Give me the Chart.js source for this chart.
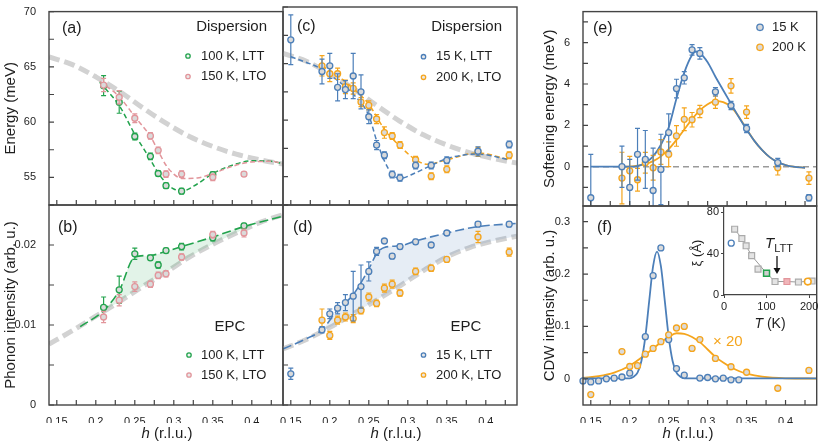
<!DOCTYPE html>
<html>
<head>
<meta charset="utf-8">
<script src="https://cdn.jsdelivr.net/npm/chart.js@4.4.1/dist/chart.umd.min.js"></script>
<style>
  html, body { margin: 0; background: #fff; }
  #wrap { position: relative; width: 822px; height: 445px; }
  #wrap canvas { position: absolute; left: 0; top: 0; }
</style>
</head>
<body>
<div id="wrap">
  <canvas id="ca" width="822" height="445"></canvas>
  <canvas id="cb" width="822" height="445"></canvas>
  <canvas id="cc" width="822" height="445"></canvas>
  <canvas id="cd" width="822" height="445"></canvas>
  <canvas id="ce" width="822" height="445"></canvas>
  <canvas id="cf" width="822" height="445"></canvas>
  <canvas id="ci" width="822" height="445"></canvas>
</div>
<script>
const W = 822, H = 445;
const FONT = '"Liberation Sans", Arial, Helvetica, sans-serif';
Chart.defaults.font.family = FONT;

const GREEN = '#22a34d', PINK = '#e2959b', BLUE = '#4c7fb9', ORANGE = '#f5a51d';
const DOTFILL = '#dadada', AXIS = '#444', TXT = '#1e1e1e', GRAYLINE = '#d2d2d2';

// shared h axis (r.l.u.)
const hTicks = [0.15, 0.175, 0.2, 0.225, 0.25, 0.275, 0.3, 0.325, 0.35, 0.375, 0.4, 0.425];
const hLabels = [0.15, 0.2, 0.25, 0.3, 0.35, 0.4];

// (a) dispersion, 100 K LTT / 150 K LTO
const aH100 = [0.21, 0.23, 0.25, 0.27, 0.28, 0.29, 0.31, 0.35];
const aE100 = [63.3, 61.8, 58.7, 56.9, 55.35, 54.25, 53.75, 55.25];
const aErr100 = [0.9, 1.0, 0.3, 0.3, 0.25, 0.25, 0.25, 0.25];
const aH150 = [0.21, 0.23, 0.25, 0.27, 0.28, 0.29, 0.31, 0.35, 0.39];
const aE150 = [63.35, 62.25, 60.35, 58.75, 57.45, 55.3, 55.3, 55.0, 55.3];
const aErr150 = [0.6, 0.6, 0.4, 0.3, 0.3, 0.3, 0.3, 0.3, 0.2];
const aFitH = [0.205, 0.23, 0.25, 0.27, 0.28, 0.29, 0.30, 0.31, 0.33, 0.35, 0.375, 0.40, 0.425, 0.44];
const aFit100 = [63.6, 61.5, 58.9, 56.6, 55.4, 54.5, 53.95, 53.75, 54.4, 55.35, 56.1, 56.5, 56.45, 56.25];
const aFit150 = [63.7, 62.3, 60.5, 58.7, 57.4, 56.1, 55.3, 54.9, 54.95, 55.35, 56.0, 56.4, 56.45, 56.25];
// bare dispersion (gray), used in (a) and (c)
const dispH = [0.14, 0.17, 0.20, 0.23, 0.26, 0.29, 0.32, 0.35, 0.38, 0.41, 0.44];
const dispE = [65.9, 65.2, 64.1, 62.8, 61.3, 59.9, 58.7, 57.8, 57.1, 56.6, 56.2];
const eTicks = [52.5, 55, 57.5, 60, 62.5, 65, 67.5, 70];
const eLabels = [55, 60, 65, 70];

// (b) phonon intensity
const bH = [0.21, 0.23, 0.25, 0.27, 0.28, 0.29, 0.31, 0.35, 0.39];
const bI100 = [0.0122, 0.0144, 0.0189, 0.0184, 0.0175, 0.0193, 0.0198, 0.0209, 0.0224];
const bErr100 = [0.0013, 0.0017, 0.0007, 0.0003, 0.0004, 0.0003, 0.0004, 0.0004, 0.0003];
const bI150 = [0.0110, 0.0131, 0.0148, 0.0151, 0.0162, 0.0164, 0.0185, 0.0213, 0.0215];
const bErr150 = [0.0007, 0.0007, 0.0006, 0.0004, 0.0004, 0.0004, 0.0004, 0.0004, 0.0005];
const bFitH = [0.18, 0.21, 0.23, 0.25, 0.27, 0.29, 0.31, 0.35, 0.39, 0.44];
const bFit = [0.0098, 0.0118, 0.0143, 0.0185, 0.0187, 0.0192, 0.0198, 0.0210, 0.0223, 0.0236];
const bGrayH = [0.14, 0.17, 0.2, 0.23, 0.26, 0.29, 0.32, 0.35, 0.38, 0.41, 0.44];
const bGray = [0.0076, 0.0093, 0.0111, 0.0129, 0.0148, 0.0166, 0.0185, 0.0201, 0.0215, 0.0228, 0.0238];
const iTicks = [0, 0.005, 0.01, 0.015, 0.02, 0.025];
const iLabels = [0, 0.01, 0.02];

// (c) dispersion, 15 K LTT / 200 K LTO
const cH15 = [0.15, 0.19, 0.2, 0.21, 0.22, 0.23, 0.24, 0.25, 0.26, 0.27, 0.28, 0.29, 0.31, 0.33, 0.35, 0.39, 0.43];
const cE15 = [67.1, 64.3, 64.8, 62.9, 62.7, 63.9, 62.5, 60.3, 57.8, 56.9, 55.2, 54.9, 56.0, 56.0, 56.45, 57.25, 57.85];
const cErr15 = [2.2, 1.1, 1.1, 1.2, 0.8, 2.0, 1.5, 0.6, 0.4, 0.3, 0.3, 0.3, 0.3, 0.3, 0.3, 0.4, 0.3];
const cH200 = [0.19, 0.2, 0.21, 0.22, 0.23, 0.24, 0.25, 0.26, 0.27, 0.28, 0.29, 0.31, 0.33, 0.35, 0.39, 0.43];
const cE200 = [64.8, 64.1, 64.1, 62.95, 62.8, 61.6, 61.3, 60.1, 58.9, 58.6, 57.8, 56.5, 55.05, 55.65, 57.2, 56.9];
const cErr200 = [0.9, 0.7, 0.5, 0.6, 0.5, 0.4, 0.4, 0.4, 0.5, 0.3, 0.3, 0.3, 0.3, 0.3, 0.4, 0.3];
const cFitH15 = [0.15, 0.19, 0.21, 0.23, 0.25, 0.26, 0.27, 0.28, 0.29, 0.31, 0.33, 0.35, 0.39, 0.43];
const cFit15 = [65.6, 64.5, 63.5, 62.3, 60.4, 58.2, 56.4, 55.2, 54.85, 55.35, 56.0, 56.6, 57.0, 56.5];
const cFitH200 = [0.19, 0.21, 0.23, 0.25, 0.27, 0.29, 0.31, 0.325, 0.35, 0.39, 0.43];
const cFit200 = [64.8, 63.9, 62.8, 61.4, 59.2, 57.7, 56.5, 56.1, 56.5, 57.1, 56.5];

// (d) phonon intensity
const dH15 = [0.15, 0.19, 0.2, 0.21, 0.22, 0.23, 0.24, 0.25, 0.26, 0.27, 0.28, 0.29, 0.31, 0.33, 0.35, 0.39, 0.43];
const dI15 = [0.0039, 0.0094, 0.0114, 0.0121, 0.0128, 0.0136, 0.0148, 0.0167, 0.0192, 0.0205, 0.0186, 0.0198, 0.0204, 0.0200, 0.0215, 0.0226, 0.0226];
const dErr15 = [0.0007, 0.0004, 0.0006, 0.0007, 0.0010, 0.0031, 0.0027, 0.0012, 0.0005, 0.0003, 0.0003, 0.0003, 0.0003, 0.0003, 0.0003, 0.0003, 0.0003];
const dH200 = [0.19, 0.2, 0.21, 0.22, 0.23, 0.24, 0.25, 0.26, 0.27, 0.28, 0.29, 0.31, 0.33, 0.35, 0.39, 0.43];
const dI200 = [0.0106, 0.0087, 0.0106, 0.0110, 0.0108, 0.0118, 0.0135, 0.0127, 0.0146, 0.0151, 0.0140, 0.0167, 0.0171, 0.0182, 0.0210, 0.0191];
const dErr200 = [0.0014, 0.0005, 0.0005, 0.0005, 0.0005, 0.0004, 0.0005, 0.0004, 0.0005, 0.0005, 0.0004, 0.0004, 0.0004, 0.0003, 0.0007, 0.0005];
const dFitH = [0.14, 0.17, 0.19, 0.21, 0.23, 0.25, 0.26, 0.27, 0.29, 0.31, 0.35, 0.39, 0.44];
const dFit = [0.0070, 0.0083, 0.0094, 0.0119, 0.0138, 0.0170, 0.0189, 0.0197, 0.0199, 0.0205, 0.0215, 0.0223, 0.0227];
const dGrayH = [0.14, 0.17, 0.2, 0.23, 0.26, 0.29, 0.32, 0.35, 0.38, 0.41, 0.44];
const dGray = [0.0070, 0.0082, 0.0097, 0.0114, 0.0131, 0.0149, 0.0168, 0.0185, 0.0197, 0.0205, 0.0211];

// (e) softening energy
const eH15 = [0.15, 0.19, 0.2, 0.21, 0.22, 0.23, 0.24, 0.25, 0.26, 0.27, 0.28, 0.29, 0.31, 0.33, 0.35, 0.39, 0.43];
const eS15 = [-1.5, 0, -1.0, 0.6, 0.35, -1.15, -0.13, 1.65, 3.78, 4.3, 5.65, 5.48, 3.62, 2.96, 1.85, 0.2, -1.5];
const eErr15 = [2.1, 1.0, 1.35, 1.25, 1.4, 2.05, 1.7, 0.9, 0.45, 0.3, 0.25, 0.28, 0.2, 0.2, 0.2, 0.2, 0.15];
const eH200 = [0.19, 0.2, 0.21, 0.22, 0.23, 0.24, 0.25, 0.26, 0.27, 0.28, 0.29, 0.31, 0.33, 0.35, 0.39, 0.43];
const eS200 = [-0.55, -0.2, -0.63, 0.19, -0.05, 0.71, 0.6, 1.49, 2.29, 2.27, 2.67, 3.12, 3.91, 2.64, -0.05, -0.55];
const eErr200 = [1.25, 0.7, 0.55, 0.5, 0.6, 0.6, 0.6, 0.5, 0.55, 0.35, 0.3, 0.3, 0.35, 0.3, 0.35, 0.3];
const eFitH15 = [0.15, 0.2, 0.21, 0.22, 0.23, 0.24, 0.25, 0.26, 0.27, 0.28, 0.285, 0.29, 0.30, 0.31, 0.32, 0.33, 0.34, 0.35, 0.36, 0.37, 0.38, 0.39, 0.40, 0.41, 0.425];
const eFit15 = [0, 0, 0.03, 0.19, 0.5, 1.06, 1.9, 3.3, 4.55, 5.4, 5.57, 5.5, 5.05, 4.35, 3.7, 3.05, 2.4, 1.8, 1.25, 0.8, 0.45, 0.22, 0.08, 0, -0.05];
const eFitH200 = [0.19, 0.2, 0.21, 0.22, 0.23, 0.24, 0.25, 0.26, 0.27, 0.28, 0.29, 0.30, 0.31, 0.32, 0.33, 0.34, 0.35, 0.36, 0.37, 0.38, 0.39, 0.40, 0.41, 0.425];
const eFit200 = [0, 0, 0.05, 0.13, 0.27, 0.5, 0.85, 1.3, 1.8, 2.3, 2.72, 3.02, 3.17, 3.12, 2.9, 2.42, 1.82, 1.25, 0.8, 0.45, 0.22, 0.08, 0, -0.05];
const zeroH = [0.14, 0.44];
const zeroS = [0, 0];
const sTicks = [-1, 0, 1, 2, 3, 4, 5, 6, 7];
const sLabels = [0, 2, 4, 6];

// (f) CDW intensity
const fH15 = [0.14, 0.15, 0.16, 0.17, 0.18, 0.19, 0.2, 0.22, 0.23, 0.24, 0.25, 0.26, 0.27, 0.29, 0.30, 0.31, 0.32, 0.33, 0.34];
const fI15 = [-0.004, -0.006, -0.004, 0, 0.0013, 0.0035, 0.0108, 0.0805, 0.197, 0.25, 0.075, 0.0195, 0.007, 0.0015, 0.0025, 0, 0.0013, -0.002, -0.002];
const fH200 = [0.15, 0.19, 0.2, 0.21, 0.22, 0.23, 0.24, 0.25, 0.26, 0.27, 0.28, 0.29, 0.31, 0.33, 0.35, 0.39, 0.43];
const fI200 = [-0.030, 0.052, 0.0235, 0.025, 0.047, 0.058, 0.071, 0.084, 0.097, 0.100, 0.058, 0.075, 0.039, 0.023, 0.0125, -0.018, 0.016];
const fFitH15 = [0.14, 0.2, 0.205, 0.21, 0.215, 0.22, 0.225, 0.23, 0.235, 0.24, 0.245, 0.25, 0.255, 0.26, 0.265, 0.27, 0.28, 0.44];
const fFit15 = [0.001, 0.001, 0.004, 0.012, 0.034, 0.08, 0.149, 0.215, 0.243, 0.215, 0.149, 0.08, 0.034, 0.012, 0.004, 0.001, 0.001, 0.001];
const fFitH200 = [0.14, 0.16, 0.18, 0.2, 0.22, 0.24, 0.25, 0.26, 0.27, 0.28, 0.29, 0.30, 0.31, 0.32, 0.33, 0.34, 0.35, 0.37, 0.40, 0.44];
const fFit200 = [0.0015, 0.005, 0.012, 0.025, 0.046, 0.070, 0.080, 0.087, 0.086, 0.080, 0.070, 0.056, 0.042, 0.031, 0.022, 0.015, 0.010, 0.004, 0.001, 0.0005];
const cdwTicks = [0, 0.05, 0.1, 0.15, 0.2, 0.25, 0.3];
const cdwLabels = [0, 0.1, 0.2, 0.3];

// inset: correlation length vs T
const insGrayT = [25, 42, 52, 65, 80, 120, 175, 207];
const insGrayXi = [63.5, 54.5, 47.5, 38, 25, 13, 12.5, 13.5];
const insLineT = [25, 42, 52, 65, 100, 120, 148, 175, 207];
const insLineXi = [63.5, 54.5, 47.5, 38, 21, 13, 13, 12.5, 13.5];
const insGreenT = [100], insGreenXi = [21];
const insPinkT = [148], insPinkXi = [13];
const insBlueT = [17], insBlueXi = [50];
const insOrangeT = [197], insOrangeXi = [13];
const insTTicks = [0, 100, 200];
const insXiTicks = [0, 40, 80];

const xy = (xs, ys) => xs.map((x, i) => ({ x: x, y: ys[i] }));

function dots(xs, ys, errs, color) {
  return { data: xy(xs, ys), errs: errs, showLine: false, pointRadius: 3, pointBorderWidth: 1.3,
           pointBorderColor: color, pointBackgroundColor: DOTFILL, clip: false };
}
function curve(xs, ys, color, dash, width, fill) {
  return { data: xy(xs, ys), showLine: true, pointRadius: 0, borderColor: color,
           borderWidth: width || 1.5, borderDash: dash || [], cubicInterpolationMode: 'monotone',
           fill: fill || false, clip: 0 };
}

// error bars drawn right before each dataset's markers
const errBars = {
  id: 'errBars',
  beforeDatasetDraw(chart, args) {
    const ds = chart.data.datasets[args.index];
    if (!ds.errs) return;
    const { ctx, chartArea: a } = chart;
    const ys = chart.scales.y;
    ctx.save();
    ctx.beginPath();
    ctx.rect(a.left, a.top, a.right - a.left, a.bottom - a.top);
    ctx.clip();
    ctx.strokeStyle = ds.pointBorderColor;
    ctx.lineWidth = 1.2;
    ctx.beginPath();
    args.meta.data.forEach((pt, i) => {
      const v = ds.data[i].y, e = ds.errs[i];
      const y1 = ys.getPixelForValue(v + e), y2 = ys.getPixelForValue(v - e);
      ctx.moveTo(pt.x, y1); ctx.lineTo(pt.x, y2);
      ctx.moveTo(pt.x - 2.5, y1); ctx.lineTo(pt.x + 2.5, y1);
      ctx.moveTo(pt.x - 2.5, y2); ctx.lineTo(pt.x + 2.5, y2);
    });
    ctx.stroke();
    ctx.restore();
  }
};

// box around the panel with inward ticks
function frame(xt, yt) {
  return {
    id: 'frame',
    afterDatasetsDraw(chart) {
      const { ctx, chartArea: a, scales } = chart;
      ctx.save();
      ctx.strokeStyle = AXIS;
      ctx.lineWidth = 1.2;
      ctx.beginPath();
      xt.forEach(v => { const p = scales.x.getPixelForValue(v); ctx.moveTo(p, a.bottom); ctx.lineTo(p, a.bottom - 5); });
      yt.forEach(v => { const p = scales.y.getPixelForValue(v); ctx.moveTo(a.left, p); ctx.lineTo(a.left + 5, p); });
      ctx.stroke();
      ctx.lineWidth = 1.4;
      ctx.strokeRect(a.left, a.top, a.right - a.left, a.bottom - a.top);
      ctx.restore();
    }
  };
}

// panel letters, legends and labels
function annot(items) {
  return {
    id: 'annot',
    afterDraw(chart) {
      const ctx = chart.ctx;
      items.forEach(it => {
        ctx.save();
        if (it.mark) {
          ctx.beginPath();
          ctx.arc(it.x, it.y, it.r || 2.2, 0, Math.PI * 2);
          ctx.fillStyle = it.fill || '#e8e8e8';
          ctx.fill();
          ctx.lineWidth = 1.3;
          ctx.strokeStyle = it.c;
          ctx.stroke();
        } else if (it.arrow) {
          ctx.strokeStyle = '#111';
          ctx.fillStyle = '#111';
          ctx.lineWidth = 1.3;
          ctx.beginPath();
          ctx.moveTo(it.x, it.y1); ctx.lineTo(it.x, it.y2 - 5);
          ctx.stroke();
          ctx.beginPath();
          ctx.moveTo(it.x - 3.5, it.y2 - 6); ctx.lineTo(it.x + 3.5, it.y2 - 6); ctx.lineTo(it.x, it.y2);
          ctx.closePath();
          ctx.fill();
        } else {
          const parts = it.parts || [{ t: it.t }];
          const fonts = parts.map(p => (p.it ? 'italic ' : '') + (p.size || it.size) + 'px ' + FONT);
          let w = 0;
          const ws = parts.map((p, i) => { ctx.font = fonts[i]; const m = ctx.measureText(p.t).width; w += m; return m; });
          ctx.translate(it.x, it.y);
          if (it.rot) ctx.rotate(it.rot);
          let x = it.align === 'right' ? -w : it.align === 'center' ? -w / 2 : 0;
          ctx.textBaseline = 'middle';
          ctx.fillStyle = it.c || TXT;
          parts.forEach((p, i) => { ctx.font = fonts[i]; ctx.fillText(p.t, x, p.dy || 0); x += ws[i]; });
        }
        ctx.restore();
      });
    }
  };
}

const hLabel = (x) => ({ parts: [{ t: 'h', it: true }, { t: ' (r.l.u.)' }], x: x, y: 434, size: 15, align: 'center' });

function makePanel(id, area, cfg) {
  const [L, T, R, B] = area;
  const yw = cfg.yTitle ? cfg.yw : 0;
  const xh = cfg.xShow ? 18 : 0;
  return new Chart(document.getElementById(id), {
    type: 'scatter',
    data: { datasets: cfg.datasets },
    options: {
      responsive: false,
      animation: false,
      events: [],
      layout: { padding: { left: L - yw, top: T, right: W - R, bottom: H - B - xh } },
      plugins: { legend: { display: false }, tooltip: { enabled: false } },
      scales: {
        x: {
          type: 'linear', min: 0.14, max: 0.44, display: !!cfg.xShow,
          afterBuildTicks: s => { s.ticks = hTicks.map(v => ({ value: v })); },
          afterFit: s => { s.height = xh; },
          grid: { display: false }, border: { display: false },
          ticks: { autoSkip: false, maxRotation: 0, padding: 2, color: TXT, font: { size: 11 },
                   callback: v => hLabels.includes(v) ? String(v) : '' }
        },
        y: {
          type: 'linear', min: cfg.yMin, max: cfg.yMax, display: !!cfg.yTitle,
          afterBuildTicks: s => { s.ticks = cfg.yTicks.map(v => ({ value: v })); },
          afterFit: s => { s.width = yw; },
          grid: { display: false }, border: { display: false },
          title: { display: !!cfg.yTitle, text: cfg.yTitle || '', color: TXT, font: { size: 15 }, padding: { top: 2, bottom: 0 } },
          ticks: { padding: 5, color: TXT, font: { size: 11 },
                   callback: v => cfg.yLabels.includes(v) ? String(v) : '' }
        }
      }
    },
    plugins: [errBars, frame(hTicks, cfg.yTicks), annot(cfg.items || [])]
  });
}

// (a)
makePanel('ca', [49, 7, 283, 205], {
  yTitle: 'Energy (meV)', yw: 49, yMin: 52.5, yMax: 70, yTicks: eTicks, yLabels: eLabels,
  datasets: [
    dots(aH150, aE150, aErr150, PINK),
    dots(aH100, aE100, aErr100, GREEN),
    curve(aFitH, aFit150, PINK, [5, 3]),
    curve(aFitH, aFit100, GREEN, [5, 3]),
    curve(dispH, dispE, GRAYLINE, [11, 5], 5)
  ],
  items: [
    { t: '(a)', x: 62, y: 29, size: 16 },
    { t: 'Dispersion', x: 267, y: 27, size: 15, align: 'right' },
    { mark: true, x: 188, y: 56, c: GREEN, fill: '#f4f4f4' },
    { mark: true, x: 188, y: 76.5, c: PINK },
    { t: '100 K, LTT', x: 201, y: 56, size: 13 },
    { t: '150 K, LTO', x: 201, y: 76.5, size: 13 }
  ]
});

// (b)
makePanel('cb', [49, 205, 283, 405], {
  yTitle: 'Phonon intensity (arb. u.)', yw: 49, yMin: 0, yMax: 0.025, yTicks: iTicks, yLabels: iLabels, xShow: true,
  datasets: [
    dots(bH, bI150, bErr150, PINK),
    dots(bH, bI100, bErr100, GREEN),
    curve(bFitH, bFit, GREEN, [9, 4], 1.6, { target: 3, above: 'rgba(34,163,77,0.13)', below: 'rgba(0,0,0,0)' }),
    curve(bGrayH, bGray, GRAYLINE, [11, 5], 5)
  ],
  items: [
    { t: '(b)', x: 58, y: 228, size: 16 },
    { t: 'EPC', x: 230, y: 327, size: 15, align: 'center' },
    { mark: true, x: 189, y: 355, c: GREEN, fill: '#f4f4f4' },
    { mark: true, x: 189, y: 375, c: PINK },
    { t: '100 K, LTT', x: 201, y: 355, size: 13 },
    { t: '150 K, LTO', x: 201, y: 375, size: 13 },
    hLabel(167)
  ]
});

// (c)
makePanel('cc', [283, 7, 517, 205], {
  yMin: 52.5, yMax: 70, yTicks: eTicks, yLabels: eLabels,
  datasets: [
    dots(cH15, cE15, cErr15, BLUE),
    dots(cH200, cE200, cErr200, ORANGE),
    curve(cFitH15, cFit15, BLUE, [5, 3]),
    curve(cFitH200, cFit200, ORANGE, [5, 3]),
    curve(dispH, dispE, GRAYLINE, [11, 5], 5)
  ],
  items: [
    { t: '(c)', x: 297, y: 27, size: 16 },
    { t: 'Dispersion', x: 502, y: 27, size: 15, align: 'right' },
    { mark: true, x: 423.5, y: 56.7, c: BLUE },
    { mark: true, x: 423.5, y: 77.3, c: ORANGE },
    { t: '15 K, LTT', x: 436, y: 56.7, size: 13 },
    { t: '200 K, LTO', x: 436, y: 77.3, size: 13 }
  ]
});

// (d)
makePanel('cd', [283, 205, 517, 405], {
  yMin: 0, yMax: 0.025, yTicks: iTicks, yLabels: iLabels, xShow: true,
  datasets: [
    dots(dH15, dI15, dErr15, BLUE),
    dots(dH200, dI200, dErr200, ORANGE),
    curve(dFitH, dFit, BLUE, [9, 4], 1.6, { target: 3, above: 'rgba(76,127,185,0.14)', below: 'rgba(0,0,0,0)' }),
    curve(dGrayH, dGray, GRAYLINE, [11, 5], 5)
  ],
  items: [
    { t: '(d)', x: 293, y: 228, size: 16 },
    { t: 'EPC', x: 466, y: 327, size: 15, align: 'center' },
    { mark: true, x: 423.5, y: 355, c: BLUE },
    { mark: true, x: 423.5, y: 375, c: ORANGE },
    { t: '15 K, LTT', x: 436, y: 355, size: 13 },
    { t: '200 K, LTO', x: 436, y: 375, size: 13 },
    hLabel(396)
  ]
});

// (e)
makePanel('ce', [583, 7, 818, 206], {
  yTitle: 'Softening energy (meV)', yw: 44, yMin: -1.9, yMax: 7.5, yTicks: sTicks, yLabels: sLabels,
  datasets: [
    dots(eH15, eS15, eErr15, BLUE),
    dots(eH200, eS200, eErr200, ORANGE),
    curve(eFitH15, eFit15, BLUE, [], 1.8),
    curve(eFitH200, eFit200, ORANGE, [], 1.8),
    curve(zeroH, zeroS, '#9a9a9a', [6, 4], 1.5)
  ],
  items: [
    { t: '(e)', x: 593, y: 29, size: 16 },
    { mark: true, x: 760, y: 27.3, c: BLUE, r: 3.2, fill: DOTFILL },
    { mark: true, x: 760, y: 47.3, c: ORANGE, r: 3.2, fill: DOTFILL },
    { t: '15 K', x: 772, y: 27.3, size: 13 },
    { t: '200 K', x: 772, y: 47.3, size: 13 }
  ]
});

// (f)
makePanel('cf', [583, 206, 818, 405], {
  yTitle: 'CDW intensity (arb. u.)', yw: 44, yMin: -0.05, yMax: 0.33, yTicks: cdwTicks, yLabels: cdwLabels, xShow: true,
  datasets: [
    dots(fH200, fI200, null, ORANGE),
    dots(fH15, fI15, null, BLUE),
    curve(fFitH15, fFit15, BLUE, [], 1.8),
    curve(fFitH200, fFit200, ORANGE, [], 1.8)
  ],
  items: [
    { t: '(f)', x: 597, y: 228, size: 16 },
    { t: '\u00d7 20', x: 713, y: 342, size: 15, c: ORANGE },
    hLabel(688)
  ]
});

// inset
new Chart(document.getElementById('ci'), {
  type: 'scatter',
  data: {
    datasets: [
      { data: xy(insBlueT, insBlueXi), showLine: false, pointRadius: 3, pointBorderWidth: 1.3, pointBorderColor: BLUE, pointBackgroundColor: '#fff', clip: false },
      { data: xy(insOrangeT, insOrangeXi), showLine: false, pointRadius: 3.3, pointBorderWidth: 1.6, pointBorderColor: ORANGE, pointBackgroundColor: '#fff', clip: false },
      { data: xy(insGreenT, insGreenXi), showLine: false, pointStyle: 'rect', pointRadius: 4.2, pointBorderWidth: 1.5, pointBorderColor: GREEN, pointBackgroundColor: '#cfcfcf', clip: false },
      { data: xy(insPinkT, insPinkXi), showLine: false, pointStyle: 'rect', pointRadius: 4.2, pointBorderWidth: 1.2, pointBorderColor: PINK, pointBackgroundColor: '#f0b5b9', clip: false },
      { data: xy(insGrayT, insGrayXi), showLine: false, pointStyle: 'rect', pointRadius: 4.2, pointBorderWidth: 1.2, pointBorderColor: '#aaa', pointBackgroundColor: '#e4e4e4', clip: false },
      { data: xy(insLineT, insLineXi), showLine: true, pointRadius: 0, borderColor: '#9a9a9a', borderWidth: 1, clip: false }
    ]
  },
  options: {
    responsive: false,
    animation: false,
    events: [],
    layout: { padding: { left: 724 - 30, top: 208, right: 4, bottom: 445 - 295 - 20 } },
    plugins: { legend: { display: false }, tooltip: { enabled: false } },
    scales: {
      x: {
        type: 'linear', min: 0, max: 217,
        afterBuildTicks: s => { s.ticks = insTTicks.map(v => ({ value: v })); },
        afterFit: s => { s.height = 20; },
        grid: { display: true, drawOnChartArea: false, drawTicks: true, tickLength: 3, color: AXIS, lineWidth: 1 },
        border: { display: true, color: AXIS, width: 1.2 },
        ticks: { autoSkip: false, maxRotation: 0, padding: 2, color: TXT, font: { size: 11 } }
      },
      y: {
        type: 'linear', min: 0, max: 84,
        afterBuildTicks: s => { s.ticks = insXiTicks.map(v => ({ value: v })); },
        afterFit: s => { s.width = 30; },
        grid: { display: true, drawOnChartArea: false, drawTicks: true, tickLength: 3, color: AXIS, lineWidth: 1 },
        border: { display: true, color: AXIS, width: 1.2 },
        ticks: { padding: 2, color: TXT, font: { size: 11 } }
      }
    }
  },
  plugins: [annot([
    { t: '\u03be (\u00c5)', x: 697, y: 253, size: 13, align: 'center', rot: -Math.PI / 2 },
    { parts: [{ t: 'T', it: true }, { t: ' (K)' }], x: 770, y: 324, size: 14, align: 'center' },
    { parts: [{ t: 'T', it: true, size: 15 }, { t: 'LTT', size: 11, dy: 5 }], x: 765, y: 244, size: 15 },
    { arrow: true, x: 777, y1: 256, y2: 274 }
  ])]
});
</script>
</body>
</html>
